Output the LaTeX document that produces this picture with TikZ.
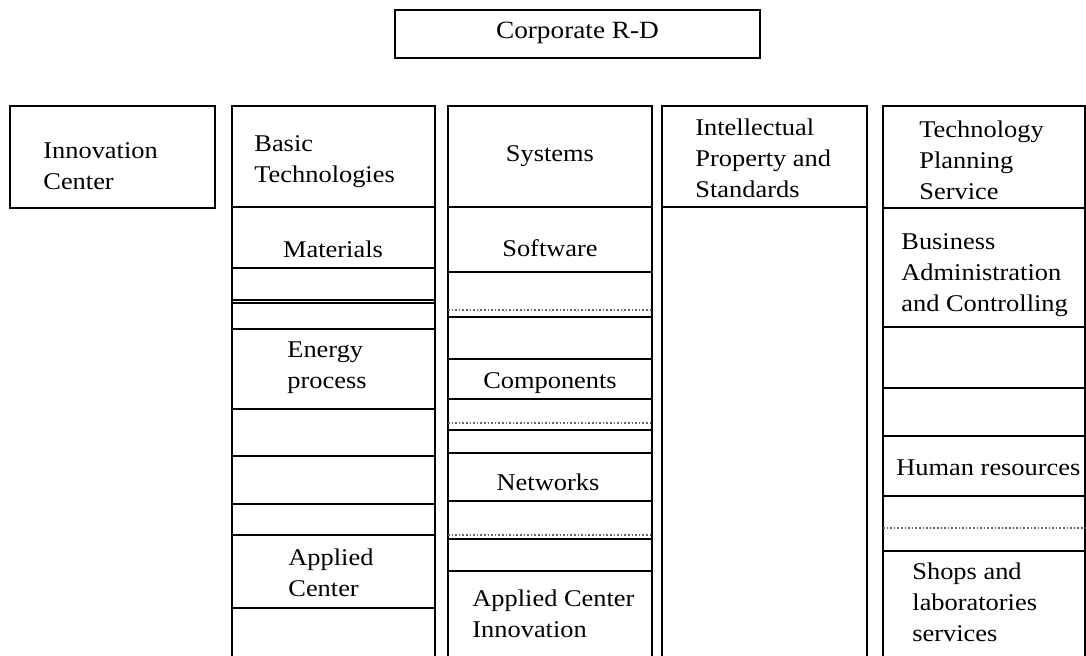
\documentclass[tikz,border=0pt]{standalone}
\usepackage{fontspec}
\setmainfont[FakeStretch=1.1]{Liberation Serif}
\usepackage{tikz}
\pgfdeclarelayer{edgelayer}
\pgfdeclarelayer{nodelayer}
\pgfsetlayers{edgelayer,nodelayer,main}
\tikzstyle{none}=[inner sep=0pt]
\tikzstyle{unit}=[rectangle,fill=none,draw=black,line width=1pt,inner sep=0pt]
\tikzstyle{title}=[inner sep=0pt,anchor=base west,align=left,font=\fontsize{12}{15.5}\selectfont]
\tikzstyle{ctitle}=[inner sep=0pt,anchor=base,font=\fontsize{12}{15.5}\selectfont]
\tikzstyle{rule}=[-,line width=1pt]
\tikzstyle{dotrule}=[-,line width=0.8pt,densely dotted,draw=black!60]

\begin{document}
\begin{tikzpicture}[x=0.5pt,y=-0.5pt]
	\useasboundingbox (0,0) rectangle (1086,656);
	\begin{pgfonlayer}{nodelayer}
		\node [style=unit, minimum width=182.5pt, minimum height=24pt] (0) at (577.5, 34) {};
		\node [style=ctitle, font=\fontsize{12.4}{15.5}\selectfont] (1) at (577.5, 39) {Corporate R-D};
		\node [style=unit, minimum width=102.5pt, minimum height=51pt] (2) at (112.5, 157) {};
		\node [style=title] (3) at (43, 190) {Innovation\\Center};
%		basic technologies
		\node [style=title] (4) at (254, 183) {Basic\\Technologies};
		\node [style=ctitle] (5) at (333, 258) {Materials};
		\node [style=title] (6) at (287, 389) {Energy\\process};
		\node [style=title] (7) at (288, 597) {Applied\\Center};
%		systems
		\node [style=ctitle] (8) at (550, 162) {Systems};
		\node [style=ctitle] (9) at (550, 257) {Software};
		\node [style=ctitle] (10) at (550, 389) {Components};
		\node [style=ctitle] (11) at (548, 491) {Networks};
		\node [style=title] (12) at (472, 638) {Applied Center\\Innovation};
%		intellectual property
		\node [style=title] (13) at (695, 198) {Intellectual\\Property and\\Standards};
%		technology planning
		\node [style=title] (14) at (919, 200) {Technology\\Planning\\Service};
		\node [style=title] (15) at (901, 312) {Business\\Administration\\and Controlling};
		\node [style=title] (16) at (896, 476) {Human resources};
		\node [style=title] (17) at (912, 641) {Shops and\\laboratories\\services};
	\end{pgfonlayer}
	\begin{pgfonlayer}{edgelayer}
		\draw [style=rule] (232, 656) -- (232, 106) -- (435, 106) -- (435, 656);
		\draw [style=rule] (448, 656) -- (448, 106) -- (652, 106) -- (652, 656);
		\draw [style=rule] (662, 656) -- (662, 106) -- (867, 106) -- (867, 656);
		\draw [style=rule] (883, 656) -- (883, 106) -- (1085, 106) -- (1085, 656);
%		basic technologies rows
		\draw [style=rule] (232, 207) -- (435, 207);
		\draw [style=rule] (232, 268) -- (435, 268);
		\draw [style=rule] (232, 300) -- (435, 300);
		\draw [style=rule] (232, 303) -- (435, 303);
		\draw [style=rule] (232, 329) -- (435, 329);
		\draw [style=rule] (232, 409) -- (435, 409);
		\draw [style=rule] (232, 456) -- (435, 456);
		\draw [style=rule] (232, 504) -- (435, 504);
		\draw [style=rule] (232, 535) -- (435, 535);
		\draw [style=rule] (232, 608) -- (435, 608);
%		systems rows
		\draw [style=rule] (448, 207) -- (652, 207);
		\draw [style=rule] (448, 272) -- (652, 272);
		\draw [style=dotrule] (448, 310) -- (652, 310);
		\draw [style=rule] (448, 317) -- (652, 317);
		\draw [style=rule] (448, 359) -- (652, 359);
		\draw [style=rule] (448, 399) -- (652, 399);
		\draw [style=dotrule] (448, 423) -- (652, 423);
		\draw [style=rule] (448, 430) -- (652, 430);
		\draw [style=rule] (448, 453) -- (652, 453);
		\draw [style=rule] (448, 501) -- (652, 501);
		\draw [style=dotrule] (448, 535) -- (652, 535);
		\draw [style=rule] (448, 539) -- (652, 539);
		\draw [style=rule] (448, 571) -- (652, 571);
%		intellectual property rows
		\draw [style=rule] (662, 207) -- (867, 207);
%		technology planning rows
		\draw [style=rule] (883, 208) -- (1085, 208);
		\draw [style=rule] (883, 327) -- (1085, 327);
		\draw [style=rule] (883, 388) -- (1085, 388);
		\draw [style=rule] (883, 436) -- (1085, 436);
		\draw [style=rule] (883, 496) -- (1085, 496);
		\draw [style=dotrule] (883, 528) -- (1085, 528);
		\draw [style=rule] (883, 551) -- (1085, 551);
	\end{pgfonlayer}
\end{tikzpicture}
\end{document}
